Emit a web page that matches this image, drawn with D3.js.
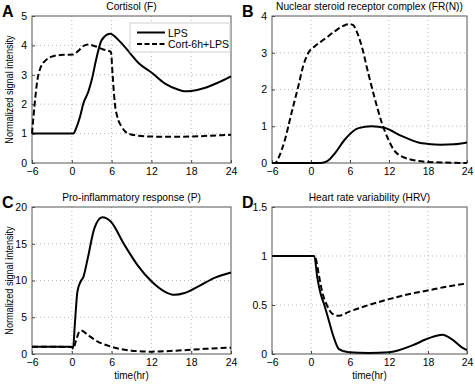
<!DOCTYPE html>
<html>
<head>
<meta charset="utf-8">
<script src="https://cdn.jsdelivr.net/npm/d3@7"></script>
<style>
  body { margin: 0; background: #fff; }
  svg { display: block; font-family: "Liberation Sans", Arial, sans-serif; }
</style>
</head>
<body>
<div id="chart"></div>
<script>
// A: cortisol
const aLpsT = [-6, 0, 0.25, 0.6, 1.25, 1.75, 2.5, 3, 3.75, 4.5, 5.75, 7.3, 8.8, 10.1, 12, 14, 16, 17, 18, 20, 22, 24];
const aLpsV = [1, 1, 1, 1.15, 1.58, 2.03, 2.43, 2.82, 3.6, 4.18, 4.4, 4.12, 3.73, 3.39, 3.08, 2.71, 2.5, 2.44, 2.45, 2.55, 2.73, 2.95];
const aCortT = [-6, -5.6, -5.2, -4.7, -3.9, -2.7, -1.2, 0.25, 1, 1.75, 2.5, 3.5, 4.75, 5.9, 6.15, 6.5, 6.85, 7.5, 8.5, 10, 12, 15, 18, 21, 24];
const aCortV = [1, 2, 2.8, 3.25, 3.5, 3.64, 3.68, 3.69, 3.82, 3.98, 4.03, 3.97, 3.86, 3.78, 3, 2, 1.58, 1.24, 1, 0.93, 0.9, 0.89, 0.9, 0.93, 0.96];

// B: nuclear receptor complex
const bLpsT = [-6, 1.5, 2.5, 3.7, 5.2, 7.3, 9.3, 11.4, 14, 16.5, 18, 20, 22, 24];
const bLpsV = [0, 0, 0.05, 0.27, 0.64, 0.95, 1, 0.95, 0.73, 0.56, 0.52, 0.5, 0.51, 0.56];
const bCortT = [-6, -5.5, -5, -4, -3, -1.95, -1.2, -0.4, 0.6, 2.15, 3.7, 5.2, 6, 6.5, 7, 7.8, 8.8, 9.85, 10.9, 11.9, 12.9, 15, 18, 24];
const bCortV = [0, 0, 0.14, 0.64, 1.36, 2.09, 2.64, 3, 3.18, 3.38, 3.59, 3.75, 3.78, 3.75, 3.59, 3.18, 2.45, 1.73, 1.09, 0.64, 0.32, 0.11, 0.03, 0];

// C: pro-inflammatory
const cLpsT = [-6, 0, 0.2, 0.45, 0.85, 1.35, 1.75, 2.4, 3.4, 4.6, 5.9, 7.9, 9.9, 12, 14, 15.5, 17, 19.1, 21.6, 24];
const cLpsV = [1, 1, 0.8, 3.95, 8.5, 9.9, 10.5, 13, 17.1, 18.6, 18, 14.9, 12.1, 9.9, 8.5, 8.05, 8.3, 9.2, 10.4, 11.1];
const cCortT = [-6, 0, 0.2, 0.6, 1.1, 1.4, 2.4, 3.9, 5.9, 9, 12, 16.6, 20, 24];
const cCortV = [1, 0.95, 0.7, 1.7, 3, 3.2, 2.6, 1.7, 1, 0.45, 0.32, 0.5, 0.7, 0.86];

// D: heart rate variability
const dLpsT = [-6, 0.5, 0.97, 1.5, 2, 2.75, 3.5, 4.3, 5.8, 8.9, 12, 15.5, 18.1, 20.2, 21.7, 23.2, 24];
const dLpsV = [1, 1, 0.78, 0.61, 0.51, 0.34, 0.17, 0.05, 0.017, 0.01, 0.017, 0.085, 0.16, 0.196, 0.15, 0.068, 0.04];
const dCortT = [-6, 0.5, 0.7, 1.2, 1.7, 2.5, 3.3, 4.3, 5.8, 8.9, 12, 15, 18.1, 21.1, 24];
const dCortV = [1, 1, 0.98, 0.81, 0.64, 0.49, 0.41, 0.39, 0.43, 0.5, 0.56, 0.61, 0.65, 0.69, 0.72];

const xTicks = [-6, 0, 6, 12, 18, 24];
const legendLabels = ["LPS", "Cort-6h+LPS"];

const zip = (t, v) => t.map((d, i) => ({ t: d, v: v[i] }));

const panels = [
  { letter: "A", title: "Cortisol (F)", box: [32, 16, 231, 163], yMax: 5, yTicks: [0, 1, 2, 3, 4, 5],
    lps: zip(aLpsT, aLpsV), cort: zip(aCortT, aCortV), ylabel: true, legend: true },
  { letter: "B", title: "Nuclear steroid receptor complex (FR(N))", box: [272, 16, 467, 163], yMax: 4, yTicks: [0, 1, 2, 3, 4],
    lps: zip(bLpsT, bLpsV), cort: zip(bCortT, bCortV) },
  { letter: "C", title: "Pro-inflammatory response (P)", box: [32, 207, 231, 354], yMax: 20, yTicks: [0, 5, 10, 15, 20],
    lps: zip(cLpsT, cLpsV), cort: zip(cCortT, cCortV), ylabel: true, xlabel: true },
  { letter: "D", title: "Heart rate variability (HRV)", box: [272, 207, 467, 354], yMax: 1.5, yTicks: [0, 0.5, 1, 1.5],
    lps: zip(dLpsT, dLpsV), cort: zip(dCortT, dCortV), xlabel: true },
];

const width = 475;
const height = 384;
const svg = d3.select("#chart").append("svg").attr("width", width).attr("height", height);

panels.forEach((p) => {
  const [x0, y0, x1, y1] = p.box;
  const x = d3.scaleLinear().domain([-6, 24]).range([x0, x1]);
  const y = d3.scaleLinear().domain([0, p.yMax]).range([y1, y0]);
  const g = svg.append("g");

  // grid
  g.append("g")
    .selectAll("line")
    .data(xTicks.slice(1, -1))
    .join("line")
    .attr("x1", (d) => x(d)).attr("x2", (d) => x(d))
    .attr("y1", y0).attr("y2", y1)
    .attr("stroke", "#b8b8b8").attr("stroke-dasharray", "1,3");
  g.append("g")
    .selectAll("line")
    .data(p.yTicks.slice(1, -1))
    .join("line")
    .attr("y1", (d) => y(d)).attr("y2", (d) => y(d))
    .attr("x1", x0).attr("x2", x1)
    .attr("stroke", "#b8b8b8").attr("stroke-dasharray", "1,3");

  // axes
  g.append("g")
    .attr("transform", `translate(0,${y1})`)
    .call(d3.axisBottom(x).tickValues(xTicks).tickSize(-3).tickPadding(5).tickSizeOuter(0))
    .call((a) => a.select(".domain").remove());
  g.append("g")
    .attr("transform", `translate(${x0},0)`)
    .call(d3.axisLeft(y).tickValues(p.yTicks).tickSize(-3).tickPadding(5).tickSizeOuter(0).tickFormat(d3.format("~g")))
    .call((a) => a.select(".domain").remove());
  g.selectAll(".tick text").attr("font-size", 10.5).attr("fill", "#000").attr("font-family", "Liberation Sans, Arial, sans-serif");
  g.selectAll(".tick line").attr("stroke", "#444");

  g.append("rect")
    .attr("x", x0).attr("y", y0)
    .attr("width", x1 - x0).attr("height", y1 - y0)
    .attr("fill", "none").attr("stroke", "#555");

  const line = d3.line().curve(d3.curveMonotoneX).x((d) => x(d.t)).y((d) => y(d.v));

  g.append("path").datum(p.lps)
    .attr("fill", "none").attr("stroke", "#000").attr("stroke-width", 2)
    .attr("stroke-linejoin", "round").attr("d", line);
  g.append("path").datum(p.cort)
    .attr("fill", "none").attr("stroke", "#000").attr("stroke-width", 2)
    .attr("stroke-dasharray", "6,3").attr("d", line);

  // texts
  g.append("text")
    .attr("x", (x0 + x1) / 2).attr("y", y0 - 6)
    .attr("text-anchor", "middle").attr("font-size", 10.2)
    .text(p.title);
  g.append("text")
    .attr("x", x0 - 30).attr("y", y0 + 1)
    .attr("font-size", 16).attr("font-weight", "bold")
    .text(p.letter);
  if (p.ylabel) {
    // text in the figure is a bit squashed vertically
    g.append("text")
      .attr("transform", `translate(${x0 - 19},${(y0 + y1) / 2}) rotate(-90) scale(0.86,1)`)
      .attr("text-anchor", "middle").attr("font-size", 10.6)
      .text("Normalized signal intensity");
  }
  if (p.xlabel) {
    g.append("text")
      .attr("x", (x0 + x1) / 2).attr("y", y1 + 25)
      .attr("text-anchor", "middle").attr("font-size", 10)
      .text("time(hr)");
  }
  if (p.legend) {
    const lg = g.append("g");
    lg.append("rect")
      .attr("x", 130).attr("y", 23).attr("width", 100).attr("height", 29)
      .attr("fill", "#fff").attr("stroke", "#d0d0d0");
    lg.selectAll("g")
      .data(legendLabels)
      .join("g")
      .attr("transform", (d, i) => `translate(137,${32.5 + i * 11.5})`)
      .call((s) => s.append("line")
        .attr("x1", 0).attr("x2", 28)
        .attr("stroke", "#000").attr("stroke-width", 2)
        .attr("stroke-dasharray", (d, i) => (i ? "5,2.5" : null)))
      .call((s) => s.append("text")
        .attr("x", 31).attr("y", 4)
        .attr("font-size", 10.5)
        .text((d) => d));
  }
});
</script>
</body>
</html>
